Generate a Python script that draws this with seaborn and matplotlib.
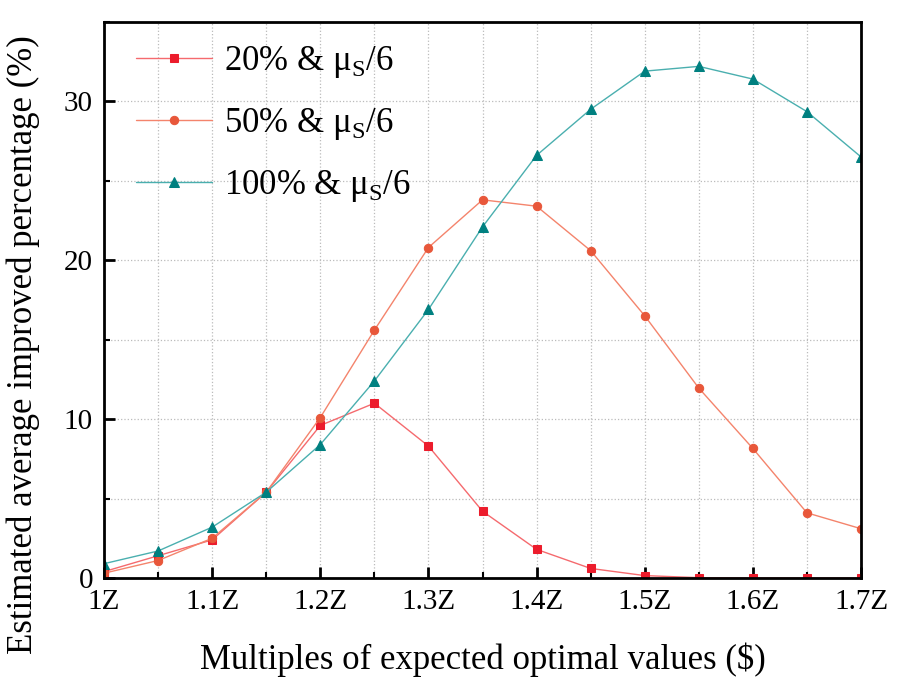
import numpy as np
import pandas as pd
import matplotlib
matplotlib.use("Agg")
import matplotlib.pyplot as plt
import seaborn as sns
from matplotlib.ticker import MultipleLocator, FuncFormatter

# --- data ---
multiples = [1.0, 1.05, 1.1, 1.15, 1.2, 1.25, 1.3, 1.35, 1.4, 1.45, 1.5, 1.55, 1.6, 1.65, 1.7]
pct_20 = [0.4, 1.4, 2.4, 5.4, 9.6, 11.0, 8.3, 4.2, 1.8, 0.6, 0.15, 0.02, 0.0, 0.0, 0.0]
pct_50 = [0.3, 1.1, 2.5, 5.4, 10.1, 15.6, 20.8, 23.8, 23.4, 20.6, 16.5, 11.95, 8.15, 4.1, 3.1]
pct_100 = [0.9, 1.7, 3.2, 5.4, 8.4, 12.4, 16.9, 22.1, 26.6, 29.5, 31.9, 32.2, 31.4, 29.35, 26.5]

labels = ["20% & μ$_\\mathregular{S}$/6", "50% & μ$_\\mathregular{S}$/6", "100% & μ$_\\mathregular{S}$/6"]

sns.set_style("ticks")
plt.rcParams["font.family"] = ["Liberation Serif", "DejaVu Serif"]
plt.rcParams["mathtext.fontset"] = "custom"
plt.rcParams["mathtext.rm"] = "Liberation Serif"
for k in ["text.color", "axes.labelcolor", "xtick.color", "ytick.color", "axes.edgecolor"]:
    plt.rcParams[k] = "black"

fig = plt.figure(figsize=(9, 6.84), dpi=100)
ax = fig.add_axes([0.1156, 0.155, 0.8411, 0.813])

series = [
    (pct_20, labels[0], "#F56A6E", "#EC1C2C", "s", 6),
    (pct_50, labels[1], "#F4846C", "#E8573A", "o", 6),
    (pct_100, labels[2], "#4AAFAF", "#008080", "^", 7.5),
]
for vals, lab, lc, mc, mk, ms in series:
    df = pd.DataFrame({"x": multiples, "y": vals})
    sns.lineplot(data=df, x="x", y="y", ax=ax, color=lc, linewidth=1.0,
                 marker=mk, markersize=ms, markerfacecolor=mc,
                 markeredgecolor=mc, label=lab)

ax.set_xlim(1.0, 1.7)
ax.set_ylim(0, 35)
ax.xaxis.set_major_locator(MultipleLocator(0.1))
ax.xaxis.set_minor_locator(MultipleLocator(0.05))
ax.yaxis.set_major_locator(MultipleLocator(10))
ax.yaxis.set_minor_locator(MultipleLocator(5))

def zfmt(v, pos):
    if abs(v - 1.0) < 1e-9:
        return "1Z"
    return f"{v:.1f}Z"

ax.xaxis.set_major_formatter(FuncFormatter(zfmt))
ax.grid(True, which="both", linestyle=":", color="#BBBBBB", linewidth=0.9)
ax.tick_params(which="major", direction="in", length=8, width=2, labelsize=21, pad=8)
ax.tick_params(which="minor", direction="in", length=4, width=1.5)
for sp in ax.spines.values():
    sp.set_linewidth(2)
    sp.set_visible(True)

ax.set_xlabel("Multiples of expected optimal values ($)", fontsize=25, labelpad=20)
ax.set_ylabel("Estimated average improved percentage (%)", fontsize=25)
ax.yaxis.set_label_coords(-0.085, 0.42)

ax.legend(loc="upper left", frameon=False, fontsize=25, handlelength=2.2,
          handletextpad=0.35, borderaxespad=0.4, labelspacing=0.75,
          bbox_to_anchor=(0.005, 1.01))

fig.savefig("out.png", dpi=100)
